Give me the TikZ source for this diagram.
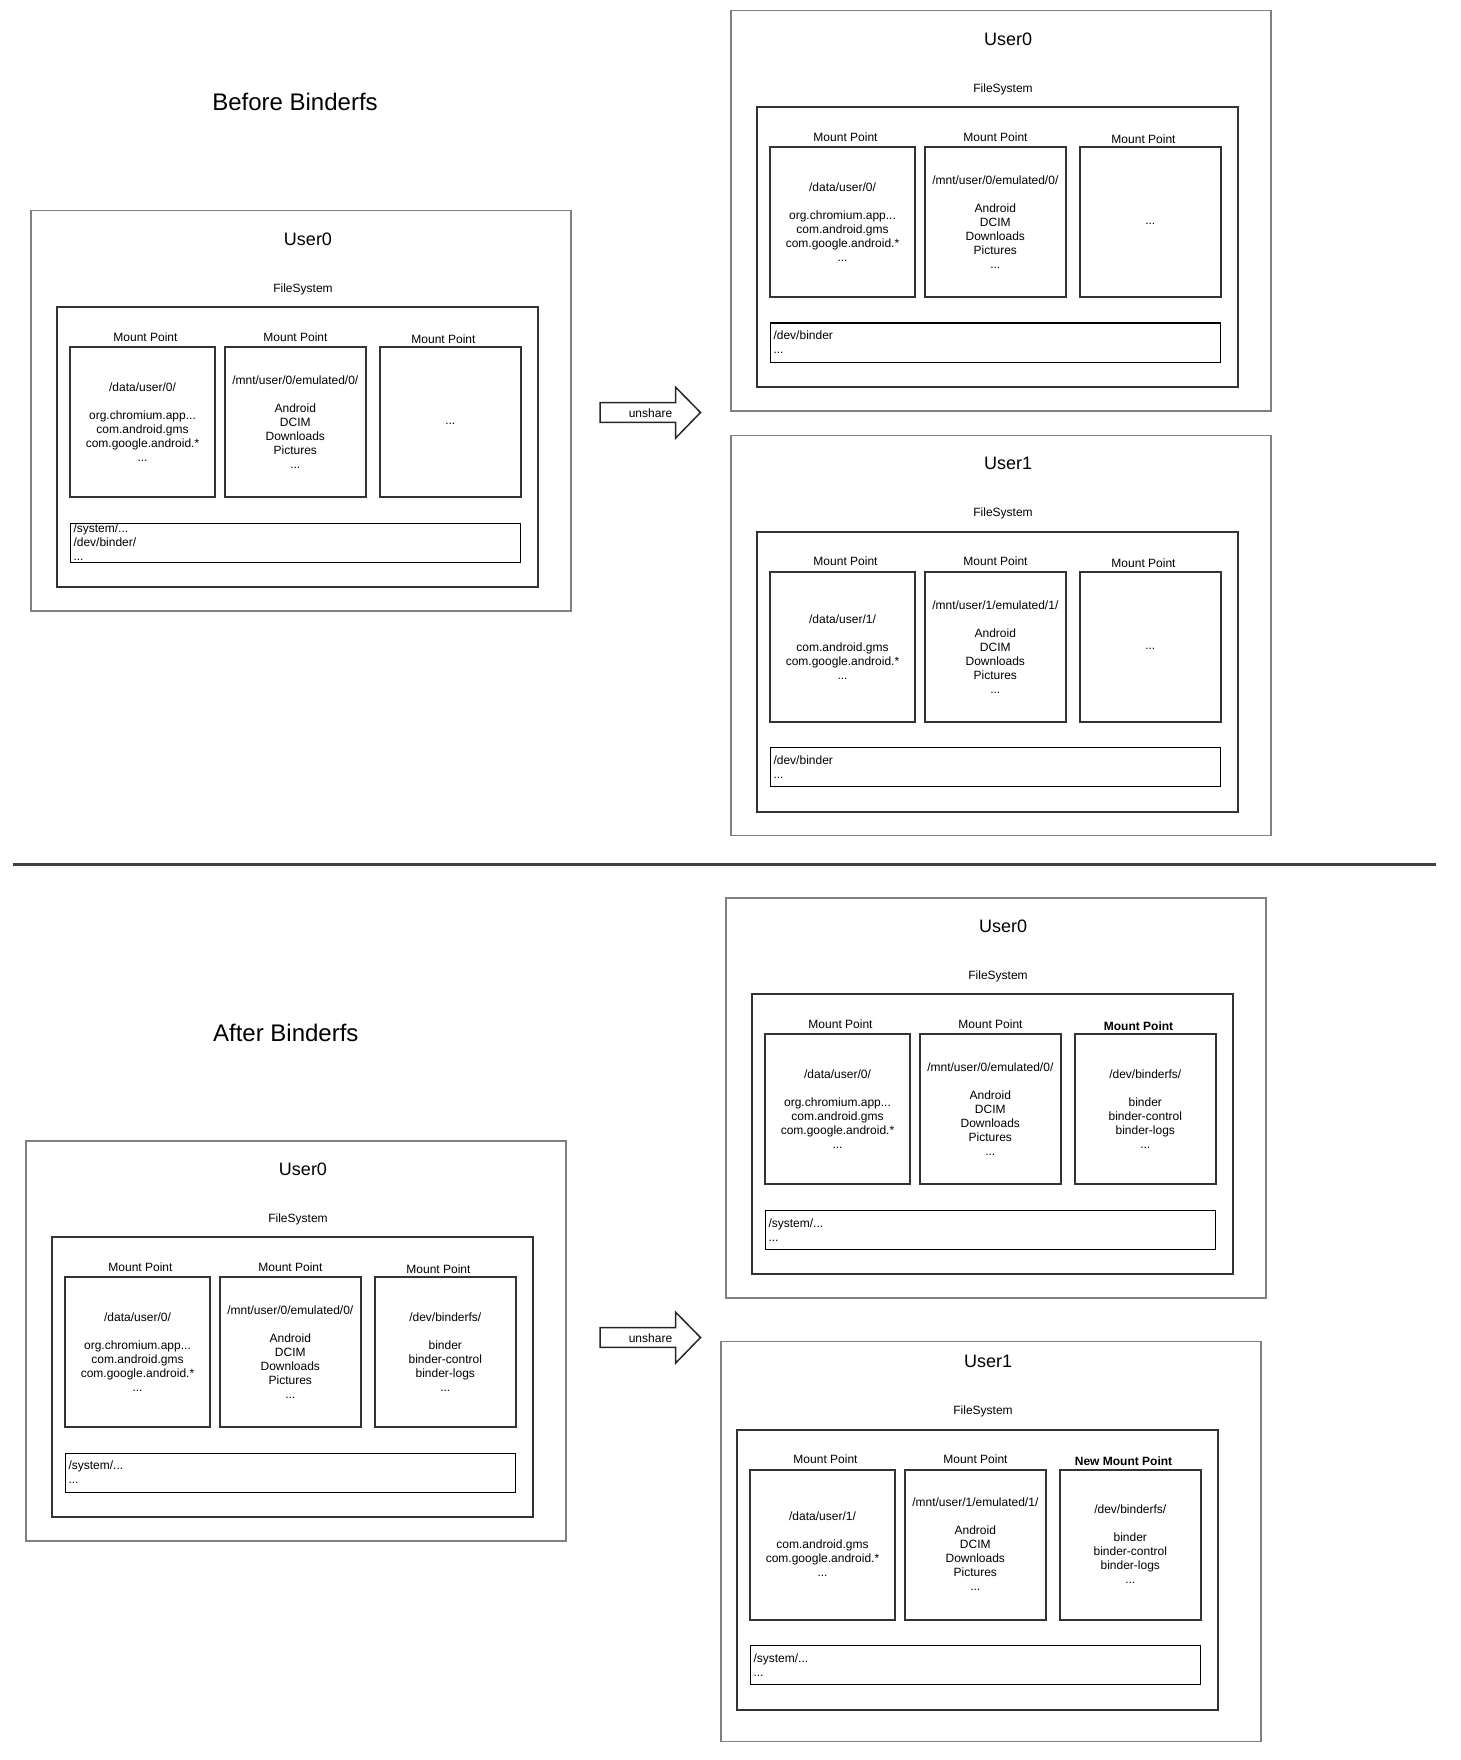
\documentclass[tikz,border=0pt]{standalone}
\usepackage{fontspec}
\setmainfont{Liberation Sans}
\usetikzlibrary{positioning}

\newcommand{\twelve}{\fontsize{12}{14}\selectfont}

\tikzset{
    userbox/.style={draw=black!50, line width=1.5pt, minimum width=540pt, minimum height=400pt, anchor=north west, inner sep=0pt},
    fsbox/.style={draw=black!80, line width=2pt, minimum width=481pt, minimum height=280pt, inner sep=0pt},
    mpbox/.style={draw=black!80, line width=2pt, minimum width=140.5pt, minimum height=150pt, inner sep=0pt, align=center, font=\twelve},
    barbox/.style={draw=black, line width=1pt, minimum height=39pt, inner xsep=3.5pt, inner ysep=0pt, text width=443.5pt, align=left, font=\twelve},
    smalltext/.style={font=\twelve, inner sep=0pt},
    usertitle/.style={font=\fontsize{18}{21}\selectfont, inner sep=0pt},
    bigtitle/.style={font=\fontsize{24}{28}\selectfont, inner sep=0pt},
    unsharearrow/.style={draw=black!85, line width=1.5pt, fill=white, line join=miter},
    separator/.style={draw=black!75, line width=3pt},
}

% one user with its file system: name, user, third label, three mount points, bar, inner shift
\newcommand{\fsblock}[8]{
    \node[userbox] (#1-user) at (0,0) {};
    \begin{scope}[shift={#8}]
    \node[usertitle] (#1-title) at (278,29) {#2};
    \node[smalltext] (#1-fslabel) at (273,79) {FileSystem};
    \node[fsbox] (#1-fs) at (267.5,237) {};
    \node[mpbox, minimum width=145pt] (#1-mp1) at (112.5,212) {#4};
    \node[mpbox] (#1-mp2) at (265.3,212) {#5};
    \node[mpbox] (#1-mp3) at (420.3,212) {#6};
    \node[smalltext] (#1-lab1) at (115.5,127) {Mount Point};
    \node[smalltext] (#1-lab2) at (265.5,127) {Mount Point};
    \node[smalltext] (#1-lab3) at (413.5,129) {#3};
    \node[barbox] (#1-bar) at (265.3,332.5) {#7};
    \end{scope}
}

\begin{document}
\begin{tikzpicture}[x=1pt, y=-1pt]
    \useasboundingbox (0,0) rectangle (1460,1760);

    \node[bigtitle] (before) at (295,102) {Before Binderfs};
    \node[bigtitle] (after) at (285.8,1033) {After Binderfs};

    % before binderfs
    \begin{scope}[shift={(30,210)}]
    \fsblock{a}{User0}{Mount Point}{/data/user/0/\\[14pt]org.chromium.app...\\com.android.gms\\com.google.android.*\\...}{/mnt/user/0/emulated/0/\\[14pt]Android\\DCIM\\Downloads\\Pictures\\...}{\strut...}{/system/...\\/dev/binder/\\...}{(0,0)}
    \end{scope}
    \begin{scope}[shift={(730,10)}]
    \fsblock{b}{User0}{Mount Point}{/data/user/0/\\[14pt]org.chromium.app...\\com.android.gms\\com.google.android.*\\...}{/mnt/user/0/emulated/0/\\[14pt]Android\\DCIM\\Downloads\\Pictures\\...}{\strut...}{/dev/binder\\...}{(0,0)}
    \end{scope}
    \begin{scope}[shift={(730,434.7)}]
    \fsblock{c}{User1}{Mount Point}{/data/user/1/\\[14pt]com.android.gms\\com.google.android.*\\...}{/mnt/user/1/emulated/1/\\[14pt]Android\\DCIM\\Downloads\\Pictures\\...}{\strut...}{/dev/binder\\...}{(0,0)}
    \end{scope}

    \coordinate (sepleft) at (12.7,864);
    \coordinate (sepright) at (1436,864);
    \draw[separator] (sepleft) -- (sepright);

    % after binderfs
    \begin{scope}[shift={(25,1140)}]
    \fsblock{d}{User0}{Mount Point}{/data/user/0/\\[14pt]org.chromium.app...\\com.android.gms\\com.google.android.*\\...}{/mnt/user/0/emulated/0/\\[14pt]Android\\DCIM\\Downloads\\Pictures\\...}{/dev/binderfs/\\[14pt]binder\\binder-control\\binder-logs\\...}{/system/...\\...}{(0,0)}
    \end{scope}
    \begin{scope}[shift={(725,897.3)}]
    \fsblock{e}{User0}{\textbf{Mount Point}}{/data/user/0/\\[14pt]org.chromium.app...\\com.android.gms\\com.google.android.*\\...}{/mnt/user/0/emulated/0/\\[14pt]Android\\DCIM\\Downloads\\Pictures\\...}{/dev/binderfs/\\[14pt]binder\\binder-control\\binder-logs\\...}{/system/...\\...}{(0,0)}
    \end{scope}
    \begin{scope}[shift={(720,1340.5)}]
    \fsblock{f}{User1}{\textbf{New Mount Point}}{/data/user/1/\\[14pt]com.android.gms\\com.google.android.*\\...}{/mnt/user/1/emulated/1/\\[14pt]Android\\DCIM\\Downloads\\Pictures\\...}{/dev/binderfs/\\[14pt]binder\\binder-control\\binder-logs\\...}{/system/...\\...}{(-10,-8)}
    \end{scope}

    % unshare arrows
    \draw[unsharearrow] (600,402.5) -- (675.7,402.5) -- (675.7,387.3) -- (700.5,412.5) -- (675.7,438) -- (675.7,422.3) -- (600,422.3) -- cycle;
    \node[smalltext] (unshare1) at (650.5,413) {unshare};
    \draw[unsharearrow, shift={(0,925)}] (600,402.5) -- (675.7,402.5) -- (675.7,387.3) -- (700.5,412.5) -- (675.7,438) -- (675.7,422.3) -- (600,422.3) -- cycle;
    \node[smalltext] (unshare2) at (650.5,1338) {unshare};
\end{tikzpicture}
\end{document}
